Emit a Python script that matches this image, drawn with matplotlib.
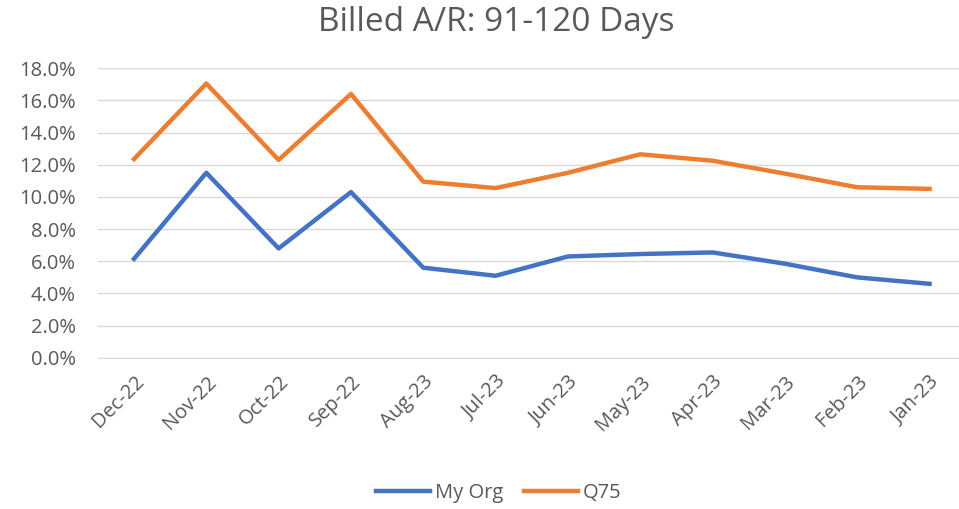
import numpy as np
import matplotlib as mpl
import matplotlib.pyplot as plt

mpl.rcParams['font.family'] = ['Open Sans', 'DejaVu Sans']

# data
months = ["Dec-22", "Nov-22", "Oct-22", "Sep-22", "Aug-23", "Jul-23",
          "Jun-23", "May-23", "Apr-23", "Mar-23", "Feb-23", "Jan-23"]
my_org = [6.15, 11.5, 6.8, 10.3, 5.6, 5.1, 6.3, 6.45, 6.55, 5.85, 5.0, 4.6]
q75 = [12.35, 17.05, 12.3, 16.4, 10.95, 10.55, 11.5, 12.65, 12.25, 11.45, 10.6, 10.5]

txt = "#595959"

fig = plt.figure(figsize=[9.59, 5.09], dpi=100)
ax = fig.add_axes([0.102, 0.297, 0.905, 0.569])

x = np.arange(len(months))
ax.plot(x, my_org, color="#4472C4", linewidth=3.2, label="My Org", solid_joinstyle="round")
ax.plot(x, q75, color="#ED7D31", linewidth=3.2, label="Q75", solid_joinstyle="round")

# axes settings
ax.set_xlim([-0.5, len(months) - 0.5])
ax.set_ylim([0, 18])
ax.set_yticks(np.arange(0, 18.1, 2))
ax.set_yticklabels([f"{v:.1f}%" for v in np.arange(0, 18.1, 2)], fontsize=14.5, color=txt)
ax.set_xticks(x)
ax.set_xticklabels(months, rotation=45, ha="right", rotation_mode="anchor", fontsize=14.5, color=txt)
ax.tick_params(axis="y", length=0, pad=16)
ax.tick_params(axis="x", length=0, pad=10)
ax.grid(axis="y", color="#D9D9D9", linewidth=1)
ax.set_axisbelow(True)
for s in ["top", "right", "left"]:
    ax.spines[s].set_visible(False)
ax.spines["bottom"].set_color("#D9D9D9")

fig.text(0.517, 0.955, "Billed A/R: 91-120 Days", ha="center", va="center", fontsize=24, color=txt)

fig.legend(loc="center", bbox_to_anchor=(0.52, 0.031), ncol=2, frameon=False,
           fontsize=14.5, labelcolor=txt, handlelength=2.7, handletextpad=0.25,
           columnspacing=1.0)

plt.savefig("out.png", dpi=100)
plt.close("all")
